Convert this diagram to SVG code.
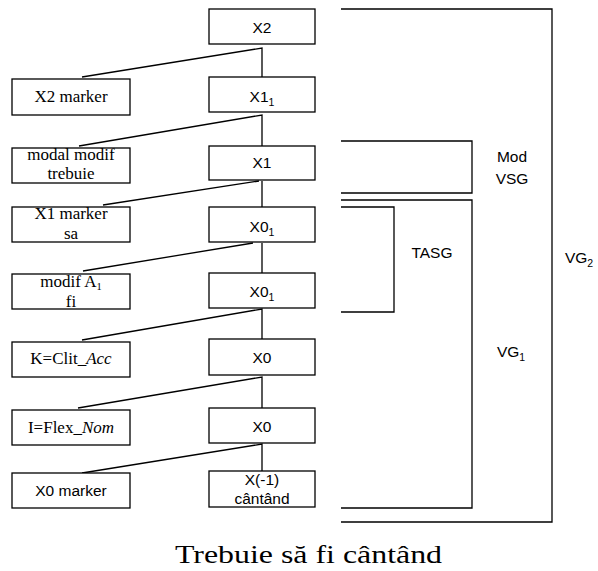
<svg xmlns="http://www.w3.org/2000/svg" width="598" height="571" viewBox="0 0 598 571">
<style>
.box{fill:#fff;stroke:#000;stroke-width:1.3}
.ln{fill:none;stroke:#000;stroke-width:1.3}
.s{font-family:"Liberation Sans",Arial,sans-serif;font-size:15.5px;fill:#000;text-anchor:middle}
.r{font-family:"Liberation Serif","Times New Roman",serif;font-size:17px;fill:#000;text-anchor:middle}
.sub{font-size:10.5px}
</style>
<rect width="598" height="571" fill="#fff"/>
<g id="connectors">
<polyline class="ln" points="82,77 262,48 262,77"/>
<polyline class="ln" points="79,146 262,115 262,146"/>
<polyline class="ln" points="103,205 259,181"/>
<line class="ln" x1="262" y1="181" x2="262" y2="207"/>
<polyline class="ln" points="83,271 253,243"/>
<line class="ln" x1="262" y1="243" x2="262" y2="273"/>
<polyline class="ln" points="82,340 262,309 262,339"/>
<polyline class="ln" points="78,408 262,377 262,408"/>
<polyline class="ln" points="82,473 262,444 262,471"/>
</g>
<g id="brackets">
<polyline class="ln" points="341,9 552,9 552,522 341,522"/>
<polyline class="ln" points="341,141 472,141 472,193 341,193"/>
<polyline class="ln" points="341,200 472,200 472,508 341,508"/>
<polyline class="ln" points="341,207 394,207 394,312 341,312"/>
</g>
<g id="n-X2"><rect class="box" x="209" y="9" width="106" height="35"/><text class="s" x="262" y="33">X2</text></g>
<g id="n-X11"><rect class="box" x="209" y="77" width="106" height="35"/><text class="s" x="262" y="102">X1<tspan class="sub" dy="4">1</tspan></text></g>
<g id="n-X1"><rect class="box" x="209" y="146" width="106" height="34"/><text class="s" x="262" y="168">X1</text></g>
<g id="n-X01a"><rect class="box" x="209" y="207" width="106" height="35"/><text class="s" x="262" y="232">X0<tspan class="sub" dy="4">1</tspan></text></g>
<g id="n-X01b"><rect class="box" x="209" y="273" width="106" height="35"/><text class="s" x="262" y="297">X0<tspan class="sub" dy="4">1</tspan></text></g>
<g id="n-X0a"><rect class="box" x="209" y="339" width="106" height="36"/><text class="s" x="262" y="363">X0</text></g>
<g id="n-X0b"><rect class="box" x="209" y="408" width="106" height="35"/><text class="s" x="262" y="432">X0</text></g>
<g id="n-Xm1"><rect class="box" x="209" y="471" width="106" height="36"/><text class="s" x="262" y="485">X(-1)</text><text class="s" x="262" y="504">cântând</text></g>
<g id="n-X2marker"><rect class="box" x="12" y="79" width="118" height="36"/><text class="r" x="71" y="102">X2 marker</text></g>
<g id="n-modal"><rect class="box" x="12" y="148" width="118" height="35"/><text class="r" x="71" y="160">modal modif</text><text class="r" x="71" y="179">trebuie</text></g>
<g id="n-X1marker"><rect class="box" x="12" y="207" width="118" height="35"/><text class="r" x="71" y="219">X1 marker</text><text class="r" x="71" y="239">sa</text></g>
<g id="n-modifA"><rect class="box" x="12" y="274" width="118" height="35"/><text class="r" x="71" y="287">modif A<tspan class="sub" dy="3">1</tspan></text><text class="r" x="71" y="307">fi</text></g>
<g id="n-K"><rect class="box" x="12" y="342" width="118" height="35"/><text class="r" x="71" y="364">K=Clit_<tspan font-style="italic">Acc</tspan></text></g>
<g id="n-I"><rect class="box" x="12" y="410" width="118" height="35"/><text class="r" x="71" y="433">I=Flex_<tspan font-style="italic">Nom</tspan></text></g>
<g id="n-X0marker"><rect class="box" x="12" y="473" width="118" height="35"/><text class="s" x="71" y="496">X0 marker</text></g>
<g id="labels">
<text class="s" x="512" y="162">Mod</text>
<text class="s" x="512" y="184">VSG</text>
<text class="s" x="432" y="258">TASG</text>
<text class="s" x="579" y="263">VG<tspan class="sub" dy="4">2</tspan></text>
<text class="s" x="511" y="357">VG<tspan class="sub" dy="4">1</tspan></text>
</g>
<text id="caption" x="175" y="563" font-family="'Liberation Serif','Times New Roman',serif" font-size="25" textLength="267" lengthAdjust="spacingAndGlyphs">Trebuie să fi cântând</text>
</svg>
